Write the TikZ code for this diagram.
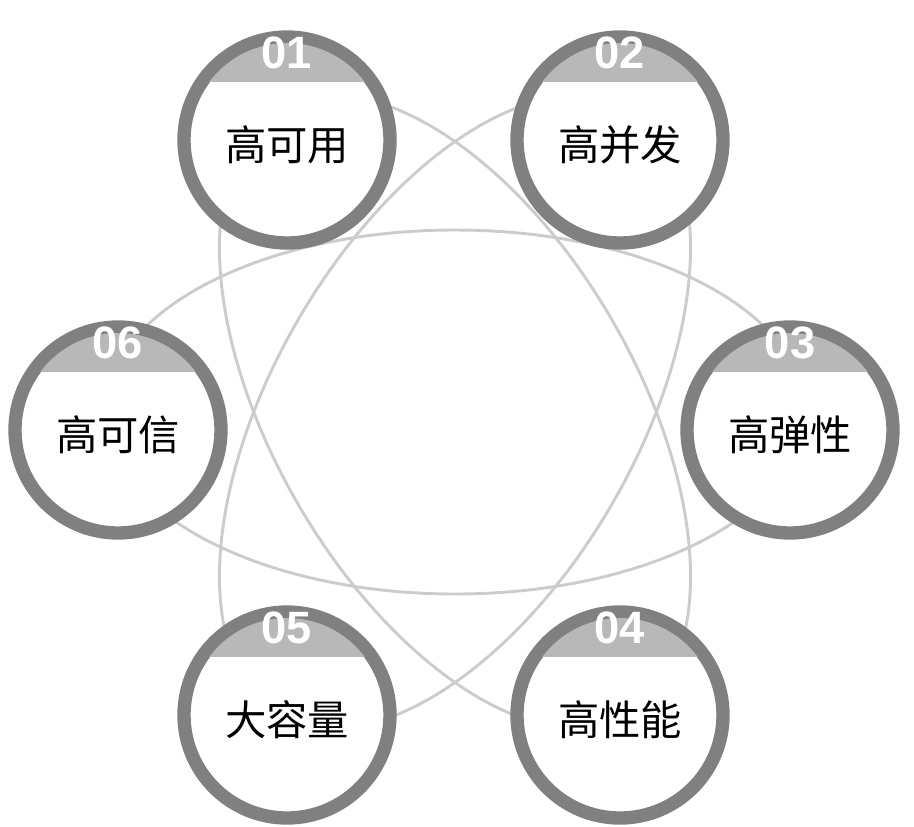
\documentclass[tikz,border=0pt]{standalone}
\usepackage{fontspec}
\setmainfont{Liberation Sans}
\newfontfamily\cjk{Noto Sans CJK SC}
\begin{document}
\begin{tikzpicture}[x=0.75pt,y=-0.75pt,
  orbit/.style={draw=black!20,line width=2.2pt},
  ring/.style={draw=black!50,line width=10pt,fill=white},
  numtxt/.style={text=white,font=\fontsize{34}{34}\selectfont\bfseries},
  lbl/.style={font=\cjk\fontsize{31}{31}\selectfont}]
\useasboundingbox (0,0) rectangle (914,826);
\coordinate (c) at (455,412);
\foreach \r in {0,60,120}
  \draw[orbit,rotate around={\r:(c)}] (c) ellipse [x radius=350, y radius=182];
\foreach \n/\x/\y/\t in {01/287/140/高可用,02/620/140/高并发,03/790/430/高弹性,04/620/715/高性能,05/287/715/大容量,06/118/430/高可信}{
  \draw[ring] (\x,\y) circle [radius=103];
  \begin{scope}
    \clip (\x,\y) circle [radius=97];
    \fill[black!28] (\x-110,\y-110) rectangle (\x+110,\y-58);
  \end{scope}
  \node[numtxt] (n\n) at (\x,\y-87) {\n};
  \node[lbl] (t\n) at (\x,\y+5) {\t};
}
\end{tikzpicture}
\end{document}
